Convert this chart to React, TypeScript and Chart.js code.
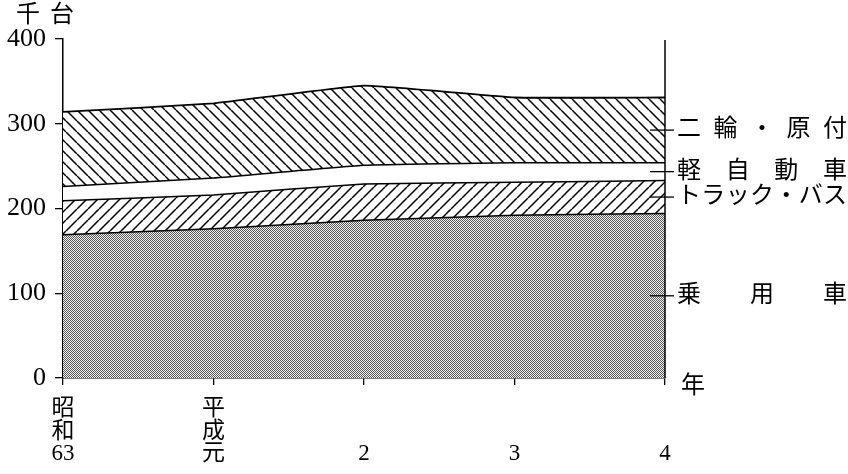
import React, { useEffect, useRef } from "react";
import { Chart, registerables } from "chart.js";
Chart.register(...registerables);

// ---- data ----
const yearLabels: string[][] = [
  ["昭", "和", "63"],
  ["平", "成", "元"],
  ["", "", "2"],
  ["", "", "3"],
  ["", "", "4"],
];
const passengerCars = [169, 176, 186, 192, 194];
const trucksBuses = [40, 40, 43, 39, 39];
const keiCars = [17, 20, 22, 23, 21];
const motorcycles = [88, 88, 94, 77, 77];
const seriesLabels = ["乗用車", "トラック・バス", "軽自動車", "二輪・原付"];
const rightLabelChars: string[][] = [
  ["乗", "用", "車"],
  ["ト", "ラ", "ッ", "ク", "・", "バ", "ス"],
  ["軽", "自", "動", "車"],
  ["二", "輪", "・", "原", "付"],
];
const yTicks = [0, 100, 200, 300, 400];
const yUnit = "千台";
const xUnit = "年";

const FONT = "'Liberation Serif', 'Noto Sans CJK JP', serif";

function hatch(ctx: CanvasRenderingContext2D, dir: "fwd" | "back", size: number) {
  const c = document.createElement("canvas");
  c.width = size;
  c.height = size;
  const g = c.getContext("2d")!;
  g.fillStyle = "#fff";
  g.fillRect(0, 0, size, size);
  g.strokeStyle = "#000";
  g.lineWidth = 1.5;
  g.beginPath();
  for (const k of [-1, 0, 1]) {
    if (dir === "fwd") {
      g.moveTo(k * size, size);
      g.lineTo(k * size + size, 0);
    } else {
      g.moveTo(k * size, 0);
      g.lineTo(k * size + size, size);
    }
  }
  g.stroke();
  return ctx.createPattern(c, "repeat")!;
}

function dots(ctx: CanvasRenderingContext2D) {
  const c = document.createElement("canvas");
  c.width = 2;
  c.height = 2;
  const g = c.getContext("2d")!;
  g.fillStyle = "#f6f6f6";
  g.fillRect(0, 0, 2, 2);
  g.fillStyle = "#555555";
  g.fillRect(0, 0, 1, 1);
  g.fillRect(1, 1, 1, 1);
  return ctx.createPattern(c, "repeat")!;
}

export default function App() {
  const ref = useRef<HTMLCanvasElement | null>(null);

  useEffect(() => {
    const canvas = ref.current!;
    const ctx = canvas.getContext("2d")!;
    const series = [passengerCars, trucksBuses, keiCars, motorcycles];
    const fills = [dots(ctx), hatch(ctx, "fwd", 11), "#ffffff", hatch(ctx, "back", 11)];

    const annot = {
      id: "annot",
      afterDraw(chart: any) {
        const c = chart.ctx as CanvasRenderingContext2D;
        const { right, top, bottom } = chart.chartArea;
        const y = chart.scales.y;
        c.save();
        // right frame line
        c.strokeStyle = "#000";
        c.lineWidth = 1.5;
        c.beginPath();
        c.moveTo(right, top + 1);
        c.lineTo(right, bottom);
        c.stroke();
        // unit labels
        c.fillStyle = "#000";
        c.font = `24px ${FONT}`;
        c.textAlign = "center";
        c.textBaseline = "middle";
        const uc = yUnit.split("");
        c.fillText(uc[0], 28, 16);
        c.fillText(uc[1], 62, 16);
        c.fillText(xUnit, right + 28, bottom + 9);
        // right side labels with leader lines
        const n = series[0].length - 1;
        let lower = 0;
        c.font = `24px ${FONT}`;
        c.textAlign = "left";
        for (let i = 0; i < series.length; i++) {
          const upper = lower + series[i][n];
          const ym = y.getPixelForValue((lower + upper) / 2);
          lower = upper;
          c.beginPath();
          c.lineWidth = 1.3;
          c.moveTo(right - 15, ym);
          c.lineTo(right + 9, ym);
          c.stroke();
          const chars = rightLabelChars[i];
          const x0 = right + 12;
          const x1 = 847;
          const w = 24;
          const gap = chars.length > 1 ? (x1 - x0 - w) / (chars.length - 1) : 0;
          chars.forEach((ch, k) => {
            c.fillText(ch, x0 + k * gap, ym);
          });
        }
        c.restore();
      },
    };

    const chart = new Chart(canvas, {
      type: "line",
      data: {
        labels: yearLabels,
        datasets: series.map((d, i) => ({
          label: seriesLabels[i],
          data: d,
          fill: i === 0 ? "origin" : "-1",
          backgroundColor: fills[i] as any,
          borderColor: "#000",
          borderWidth: i === 3 ? 1.8 : 1.5,
          pointRadius: 0,
          tension: 0.1,
        })),
      },
      options: {
        animation: false,
        responsive: false,
        devicePixelRatio: 1,
        layout: { padding: { left: 0, right: 183, top: 39, bottom: 0 } },
        plugins: { legend: { display: false }, tooltip: { enabled: false } },
        scales: {
          x: {
            offset: false,
            grid: { display: true, drawOnChartArea: false, drawTicks: true, tickLength: 7, color: "#000", lineWidth: 1.3 },
            border: { display: true, color: "#000", width: 1.5 },
            ticks: {
              color: "#000",
              font: { family: FONT, size: 23, lineHeight: 0.98 },
              padding: 13,
              maxRotation: 0,
              autoSkip: false,
            },
            afterFit(scale: any) {
              scale.height = 96;
            },
          },
          y: {
            stacked: true,
            min: yTicks[0],
            max: yTicks[yTicks.length - 1],
            grid: { display: true, drawOnChartArea: false, drawTicks: true, tickLength: 8, color: "#000", lineWidth: 1.3 },
            border: { display: true, color: "#000", width: 1.5 },
            afterBuildTicks(scale: any) {
              scale.ticks = yTicks.map((v) => ({ value: v }));
            },
            ticks: {
              color: "#000",
              font: { family: FONT, size: 26 },
              padding: 9,
            },
            afterFit(scale: any) {
              scale.width = 63;
            },
          },
        },
      },
      plugins: [annot],
    });
    return () => chart.destroy();
  }, []);

  return (
    <div style={{ position: "fixed", left: 0, top: 0, width: 848, height: 474, background: "#fff" }}>
      <canvas ref={ref} width={848} height={474} />
    </div>
  );
}
